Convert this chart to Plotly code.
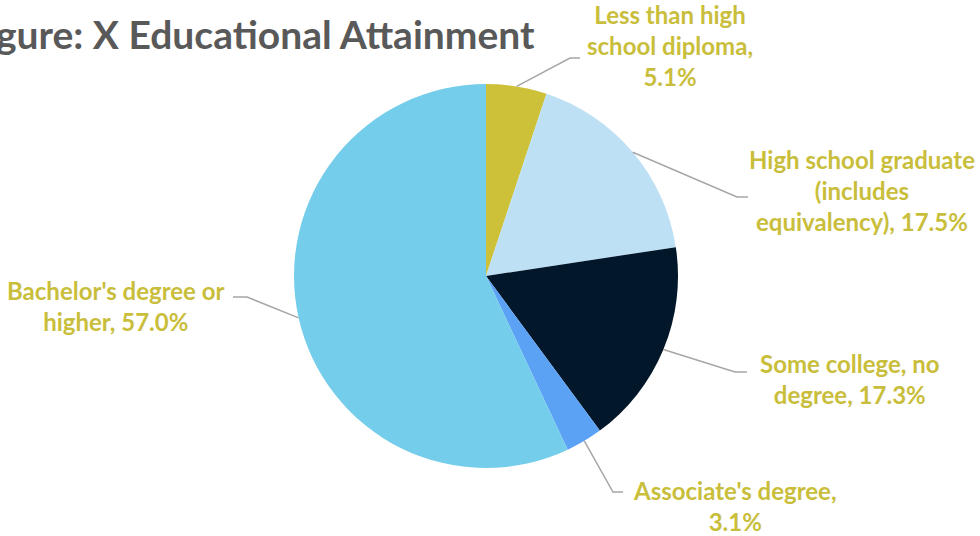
import math
import plotly.graph_objects as go

# ---- data ----
categories = ["Less than high school diploma",
              "High school graduate (includes equivalency)",
              "Some college, no degree",
              "Associate's degree",
              "Bachelor's degree or higher"]
values = [5.1, 17.5, 17.3, 3.1, 57.0]
label_lines = [
    ["Less than high", "school diploma,"],
    ["High school graduate", "(includes", "equivalency),"],
    ["Some college, no", "degree,"],
    ["Associate's degree,"],
    ["Bachelor's degree or", "higher,"],
]
slice_colors = ["#CDC13A", "#BDE0F5", "#021729", "#5BA2F5", "#74CDEB"]
title_text = "Figure: X Educational Attainment"

# ---- layout constants (pixels) ----
W, H = 980, 536
CX, CY, R = 486, 276, 192
label_pos = [(670, 45), (862, 190), (850, 379), (735, 506), (116, 306)]
elbows = [((570, 58), (580, 58)), ((737, 197), (748, 197)), ((735, 372), (747, 372)),
          ((613, 492), (623, 492)), ((247, 297), (233, 297))]
TEXT_COLOR = "#C9BE3B"
FONT = "Lato"


def px(x):
    return x / W


def py(y):
    return 1 - y / H


fig = go.Figure(go.Pie(
    labels=categories, values=values, sort=False, direction="clockwise", rotation=0,
    marker=dict(colors=slice_colors, line=dict(width=0)),
    textinfo="none", hoverinfo="label+percent", showlegend=False,
    domain=dict(x=[px(CX - R), px(CX + R)], y=[py(CY + R), py(CY - R)]),
))

total = sum(values)
cum = 0.0
annotations = []
shapes = []
for i, v in enumerate(values):
    mid = (cum + v / 2) / total * 2 * math.pi
    cum += v
    sx = CX + R * math.sin(mid)
    sy = CY - R * math.cos(mid)
    (ex, ey), (fx, fy) = elbows[i]
    shapes.append(dict(type="path", xref="paper", yref="paper",
                       path=f"M {px(sx)},{py(sy)} L {px(ex)},{py(ey)} L {px(fx)},{py(fy)}",
                       line=dict(color="#A6A6A6", width=1.5)))
    lines = list(label_lines[i])
    pct = f"{v:.1f}%"
    if len(lines) == 1 or i in (0,):
        lines = lines + [pct]
    else:
        lines[-1] = lines[-1] + " " + pct
    lx, ly = label_pos[i]
    annotations.append(dict(text="<br>".join(lines), x=px(lx), y=py(ly), xref="paper", yref="paper",
                            xanchor="center", yanchor="middle", align="center", showarrow=False,
                            font=dict(family=FONT, size=24, color=TEXT_COLOR, weight="bold")))

annotations.append(dict(text=title_text, x=px(537), y=py(34), xref="paper", yref="paper",
                        xanchor="right", yanchor="middle", showarrow=False,
                        font=dict(family=FONT, size=39, color="#595959", weight="bold")))

fig.update_layout(width=W, height=H, margin=dict(l=0, r=0, t=0, b=0),
                  paper_bgcolor="white", plot_bgcolor="white",
                  annotations=annotations, shapes=shapes)
fig.write_html("out.html")
